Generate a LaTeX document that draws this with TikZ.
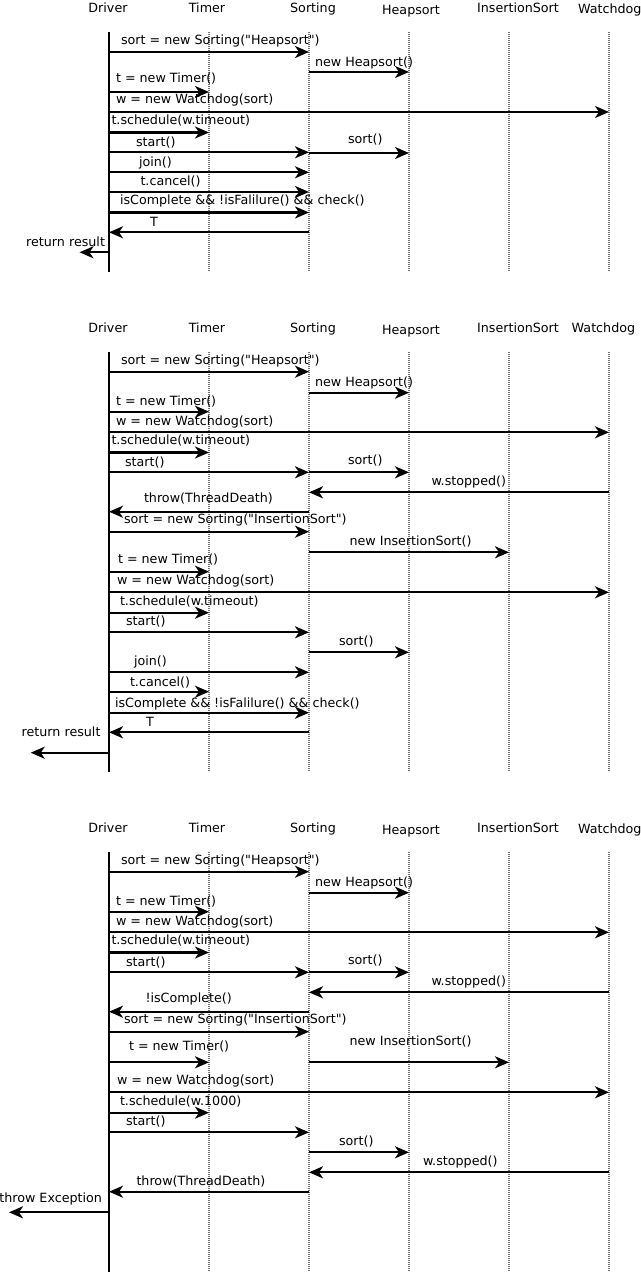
\documentclass[tikz,border=0pt]{standalone}
\usepackage{fontspec}
\setmainfont{DejaVu Sans}[Ligatures=TeXOff]
\usetikzlibrary{arrows.meta}
\newcounter{mc}
\newcommand\msg[6]{%
  \stepcounter{mc}%
  \coordinate (m\arabic{mc}a) at (#1,#3);
  \coordinate (m\arabic{mc}b) at (#2,#3);
  \draw[msgarrow] (m\arabic{mc}a) -- (m\arabic{mc}b);
  \node[lbl] (l\arabic{mc}) at (#4,#5) {#6};
}
\newcommand\rmsg[6]{%
  \stepcounter{mc}%
  \coordinate (m\arabic{mc}a) at (#1,#3);
  \coordinate (m\arabic{mc}b) at (#2,#3);
  \draw[msgarrow] (m\arabic{mc}a) -- (m\arabic{mc}b);
  \node[rlbl] (l\arabic{mc}) at (#4,#5) {#6};
}
\newcommand\heads[2]{% #1 suffix, #2 y offset
  \node[hdr] (drv#1) at (108,12.7+#2) {Driver};
  \node[hdr] (tmr#1) at (207,12.7+#2) {Timer};
  \node[hdr] (srt#1) at (313,12.7+#2) {Sorting};
  \node[hdr] (hps#1) at (411,14.5+#2) {Heapsort};
  \node[hdr] (ins#1) at (518,12.3+#2) {InsertionSort};
}
\newcommand\lifelines[3]{% #1 suffix, #2 top, #3 bottom
  \coordinate (dt#1) at (109,#2); \coordinate (db#1) at (109,#3);
  \coordinate (tt#1) at (209,#2); \coordinate (tb#1) at (209,#3);
  \coordinate (st#1) at (309,#2); \coordinate (sb#1) at (309,#3);
  \coordinate (ht#1) at (409,#2); \coordinate (hb#1) at (409,#3);
  \coordinate (it#1) at (509,#2); \coordinate (ib#1) at (509,#3);
  \coordinate (wt#1) at (609,#2); \coordinate (wb#1) at (609,#3);
  \draw[life] (tt#1) -- (tb#1);
  \draw[life] (st#1) -- (sb#1);
  \draw[life] (ht#1) -- (hb#1);
  \draw[life] (it#1) -- (ib#1);
  \draw[life] (wt#1) -- (wb#1);
  \draw[driverline] (dt#1) -- (db#1);
}
\def\D{109}\def\T{209}\def\S{309}\def\H{409}\def\I{509}\def\W{609}
\begin{document}
\begin{tikzpicture}[x=1pt,y=-1pt,
  every node/.style={font=\fontsize{12.7}{14}\selectfont, inner sep=0pt, outer sep=0pt},
  hdr/.style={anchor=base},
  lbl/.style={anchor=mid west},
  rlbl/.style={anchor=mid east},
  msgarrow/.style={line width=2.2pt, -{Stealth[length=14pt,width=12pt,inset=4pt]}},
  life/.style={line width=1.5pt, black!55, dash pattern=on 1pt off 1pt},
  driverline/.style={line width=2pt, black}]
\useasboundingbox (0,0) rectangle (640,1273);
% ---------------- diagram 1 ----------------
\heads{1}{0}
\node[hdr, anchor=base west] (wdg1) at (578,13.5) {Watchdog};
\lifelines{1}{32}{272}
\msg{\D}{\S}{52}{121}{42}{sort = new Sorting("Heapsort")}
\msg{\S}{\H}{72}{315}{63.5}{new Heapsort()}
\msg{\D}{\T}{92}{116}{79.5}{t = new Timer()}
\msg{\D}{\W}{112}{116}{100.5}{w = new Watchdog(sort)}
\msg{\D}{\T}{132.5}{111.5}{122}{t.schedule(w.timeout)}
\msg{\D}{\S}{152.3}{136}{143.5}{start()}
\msg{\S}{\H}{153}{348}{141}{sort()}
\msg{\D}{\S}{172.3}{139}{163.5}{join()}
\msg{\D}{\S}{192}{140.5}{182.5}{t.cancel()}
\msg{\D}{\S}{212.5}{120}{202}{isComplete \&\& !isFalilure() \&\& check()}
\msg{\S}{\D}{232.3}{150}{223.5}{T}
\rmsg{\D}{79.5}{252.3}{105}{243.5}{return result}
% ---------------- diagram 2 ----------------
\heads{2}{320}
\node[hdr, anchor=base west] (wdg2) at (571.7,332.5) {Watchdog};
\lifelines{2}{352}{772}
\msg{\D}{\S}{371.7}{121}{361.5}{sort = new Sorting("Heapsort")}
\msg{\S}{\H}{392.7}{315}{384}{new Heapsort()}
\msg{\D}{\T}{411.7}{116}{402.5}{t = new Timer()}
\msg{\D}{\W}{432.3}{116}{422.5}{w = new Watchdog(sort)}
\msg{\D}{\T}{452.5}{111.5}{442}{t.schedule(w.timeout)}
\msg{\D}{\S}{472.3}{125}{463.5}{start()}
\msg{\S}{\H}{472.3}{348}{461.5}{sort()}
\msg{\W}{\S}{492.3}{431.5}{483}{w.stopped()}
\msg{\S}{\D}{511.7}{144}{499.5}{throw(ThreadDeath)}
\msg{\D}{\S}{531.7}{124}{521}{sort = new Sorting("InsertionSort")}
\msg{\S}{\I}{552.3}{349.5}{542.5}{new InsertionSort()}
\msg{\D}{\T}{571.7}{118}{561}{t = new Timer()}
\msg{\D}{\W}{592.3}{117}{582}{w = new Watchdog(sort)}
\msg{\D}{\T}{612.7}{120}{602.5}{t.schedule(w.timeout)}
\msg{\D}{\S}{632.3}{126}{623}{start()}
\msg{\S}{\H}{652.3}{339}{643}{sort()}
\msg{\D}{\S}{672.3}{134}{663}{join()}
\msg{\D}{\T}{691.7}{130}{684}{t.cancel()}
\msg{\D}{\S}{712.7}{115}{704.5}{isComplete \&\& !isFalilure() \&\& check()}
\msg{\S}{\D}{732.3}{146}{723.5}{T}
\rmsg{\D}{30.7}{752.7}{100.5}{733.5}{return result}
% ---------------- diagram 3 ----------------
\heads{3}{820}
\node[hdr, anchor=base west] (wdg3) at (578,833.5) {Watchdog};
\lifelines{3}{852}{1272}
\msg{\D}{\S}{871.7}{121}{861.5}{sort = new Sorting("Heapsort")}
\msg{\S}{\H}{892.7}{315}{884}{new Heapsort()}
\msg{\D}{\T}{911.7}{116}{902.5}{t = new Timer()}
\msg{\D}{\W}{932.3}{116}{922.5}{w = new Watchdog(sort)}
\msg{\D}{\T}{952.5}{111.5}{942}{t.schedule(w.timeout)}
\msg{\D}{\S}{972.3}{126}{963.5}{start()}
\msg{\S}{\H}{972.3}{348}{961.5}{sort()}
\msg{\W}{\S}{992.3}{431.5}{983}{w.stopped()}
\msg{\S}{\D}{1011.7}{145.5}{999.5}{!isComplete()}
\msg{\D}{\S}{1031.7}{124}{1021}{sort = new Sorting("InsertionSort")}
\msg{\D}{\T}{1062.3}{129}{1047.5}{t = new Timer()}
\msg{\S}{\I}{1062.3}{349.5}{1042.5}{new InsertionSort()}
\msg{\D}{\W}{1092.3}{117}{1082}{w = new Watchdog(sort)}
\msg{\D}{\T}{1112.7}{120}{1102.5}{t.schedule(w.1000)}
\msg{\D}{\S}{1132.3}{126}{1123}{start()}
\msg{\S}{\H}{1152.3}{339}{1143}{sort()}
\msg{\W}{\S}{1172.3}{423}{1163}{w.stopped()}
\msg{\S}{\D}{1191.7}{136.5}{1182.5}{throw(ThreadDeath)}
\rmsg{\D}{9}{1212.3}{102}{1200}{throw Exception}
\end{tikzpicture}
\end{document}
